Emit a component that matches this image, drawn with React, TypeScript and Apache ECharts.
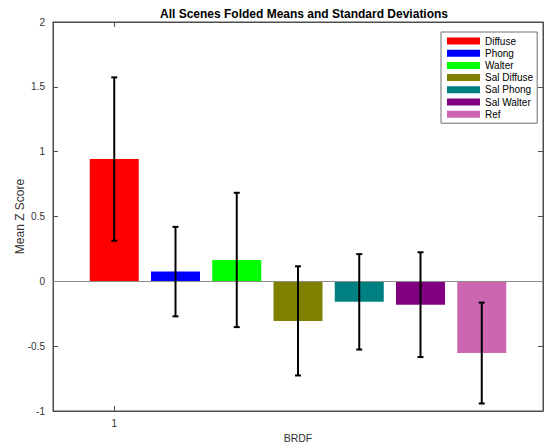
import React, { useEffect, useRef } from "react";
import * as echarts from "echarts";

const categories = ["Diffuse", "Phong", "Walter", "Sal Diffuse", "Sal Phong", "Sal Walter", "Ref"];
const means = [0.943, 0.075, 0.165, -0.305, -0.158, -0.18, -0.553];
const stds = [0.63, 0.345, 0.518, 0.421, 0.368, 0.404, 0.389];
const colors = ["#ff0000", "#0000ff", "#00ff00", "#808000", "#008080", "#800080", "#cc66b3"];
const yTicks = [-1, -0.5, 0, 0.5, 1, 1.5, 2];
const xTickLabels = ["1"];

const FONT = "'Liberation Sans', Arial, Helvetica, sans-serif";

export default function App() {
  const ref = useRef<HTMLDivElement>(null);
  useEffect(() => {
    document.body.style.margin = "0";
    const chart = echarts.init(ref.current!, null, { renderer: "svg" });
    const barSeries = categories.map((name, i) => ({
      name,
      type: "bar",
      xAxisIndex: 0,
      yAxisIndex: 0,
      barWidth: 49,
      barGap: "-100%",
      itemStyle: { color: colors[i] },
      data: [[i + 1, means[i]]],
      z: 2,
      ...(i === 0
        ? {
            markLine: {
              silent: true,
              symbol: "none",
              label: { show: false },
              lineStyle: { color: "#8c8c8c", width: 1, type: "solid" },
              data: [{ yAxis: 0 }],
              z: 3,
            },
          }
        : {}),
    }));
    const errData = categories.map((_, i) => [i + 1, means[i] - stds[i], means[i] + stds[i]]);
    const option: any = {
      animation: false,
      backgroundColor: "#ffffff",
      textStyle: { fontFamily: FONT },
      title: {
        text: "All Scenes Folded Means and Standard Deviations",
        left: 299,
        textAlign: "center",
        top: 3,
        textStyle: { fontFamily: FONT, fontSize: 12, fontWeight: "bold", color: "#000" },
      },
      legend: {
        data: categories,
        orient: "vertical",
        left: 441,
        top: 32,
        padding: [3, 4, 3, 6],
        itemWidth: 33,
        itemHeight: 7,
        itemGap: 0.2,
        backgroundColor: "#fff",
        borderColor: "#6e6e6e",
        borderWidth: 1,
        icon: "rect",
        textStyle: { fontFamily: FONT, fontSize: 10, color: "#000", lineHeight: 12 },
      },
      grid: {
        left: 53,
        right: 7,
        top: 22,
        bottom: 35,
        containLabel: false,
        outerBoundsMode: "none",
        show: true,
        borderColor: "#4d4d4d",
        borderWidth: 1,
        backgroundColor: "#fff",
      },
      xAxis: [
        {
          type: "value",
          min: 0,
          max: 8,
          name: "BRDF",
          nameLocation: "middle",
          nameGap: 21,
          nameMoveOverlap: false,
          nameTextStyle: { fontFamily: FONT, fontSize: 10.5, color: "#333" },
          axisLine: { show: true, onZero: false, lineStyle: { color: "#4d4d4d" } },
          splitLine: { show: false },
          axisTick: { show: true, inside: true, length: 5, customValues: [1], lineStyle: { color: "#4d4d4d" } },
          axisLabel: {
            customValues: [1],
            formatter: () => xTickLabels[0],
            fontFamily: FONT,
            fontSize: 10,
            color: "#333",
            margin: 7,
          },
        },
        {
          type: "value",
          min: 0,
          max: 8,
          position: "top",
          axisLine: { show: true, onZero: false, lineStyle: { color: "#4d4d4d" } },
          splitLine: { show: false },
          axisTick: { show: true, inside: true, length: 5, customValues: [1], lineStyle: { color: "#4d4d4d" } },
          axisLabel: { show: false },
        },
      ],
      yAxis: [
        {
          type: "value",
          min: -1,
          max: 2,
          interval: 0.5,
          name: "Mean Z Score",
          nameLocation: "middle",
          nameGap: 27,
          nameMoveOverlap: false,
          nameTextStyle: { fontFamily: FONT, fontSize: 12, color: "#333" },
          axisLine: { show: true, onZero: false, lineStyle: { color: "#4d4d4d" } },
          splitLine: { show: false },
          axisTick: { show: true, inside: true, length: 5, lineStyle: { color: "#4d4d4d" } },
          axisLabel: {
            fontFamily: FONT,
            fontSize: 10,
            color: "#333",
            margin: 8,
            formatter: (v: number) => {
              const t = yTicks.find((k) => Math.abs(k - v) < 1e-9);
              return t === undefined ? "" : String(t);
            },
          },
        },
        {
          type: "value",
          min: -1,
          max: 2,
          interval: 0.5,
          position: "right",
          axisLine: { show: true, onZero: false, lineStyle: { color: "#4d4d4d" } },
          splitLine: { show: false },
          axisTick: { show: true, inside: true, length: 5, lineStyle: { color: "#4d4d4d" } },
          axisLabel: { show: false },
        },
      ],
      series: [
        ...barSeries,
        {
          type: "custom",
          name: "err",
          xAxisIndex: 0,
          yAxisIndex: 0,
          z: 5,
          data: errData,
          renderItem: (params: any, api: any) => {
            const x = api.value(0);
            const lo = api.coord([x, api.value(1)]);
            const hi = api.coord([x, api.value(2)]);
            const cw = 3;
            const style = { stroke: "#000", lineWidth: 2 };
            return {
              type: "group",
              children: [
                { type: "line", shape: { x1: lo[0], y1: lo[1], x2: hi[0], y2: hi[1] }, style },
                { type: "line", shape: { x1: lo[0] - cw, y1: lo[1], x2: lo[0] + cw, y2: lo[1] }, style },
                { type: "line", shape: { x1: hi[0] - cw, y1: hi[1], x2: hi[0] + cw, y2: hi[1] }, style },
              ],
            };
          },
        },
      ],
    };
    chart.setOption(option);
    return () => chart.dispose();
  }, []);
  return <div ref={ref} style={{ width: 550, height: 446 }} />;
}
